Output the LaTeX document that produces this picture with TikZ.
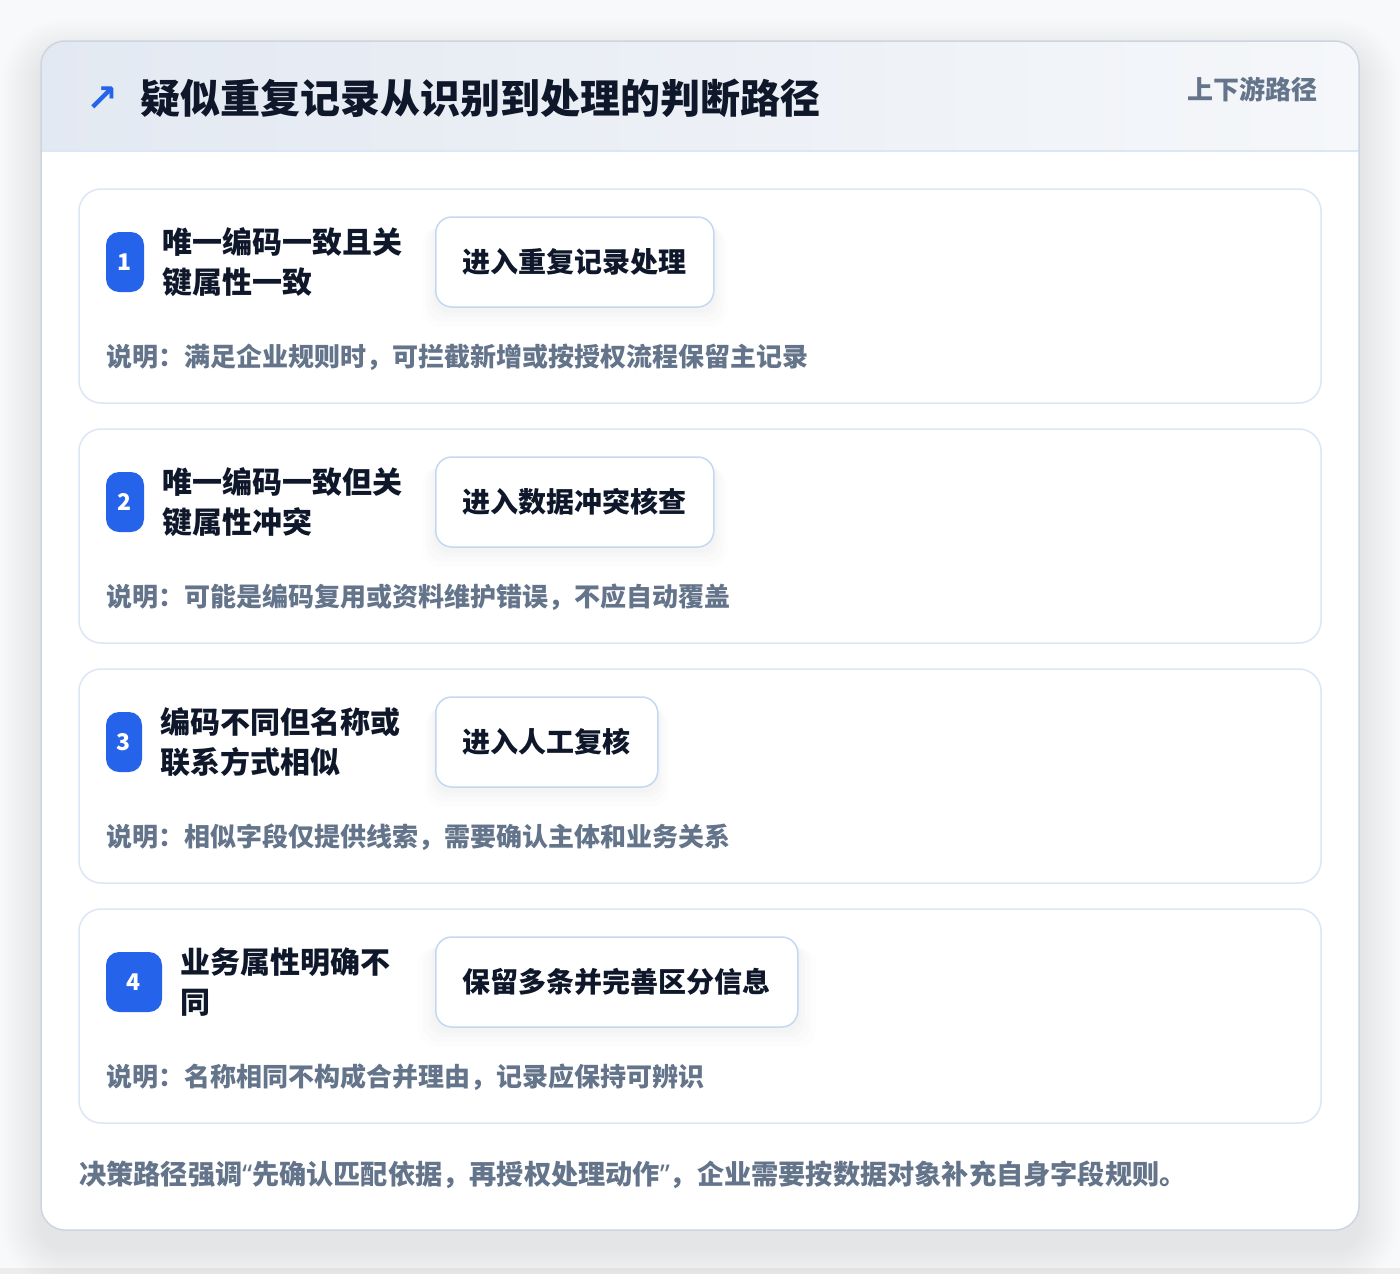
\documentclass[tikz,border=0pt]{standalone}
\usepackage{fontspec}
\setmainfont{Noto Sans CJK SC}
\newfontfamily\symfont{DejaVu Sans}
\newfontfamily\quotefont{Noto Sans}
\usetikzlibrary{shadows}

\definecolor{inkcol}{HTML}{0F172A}
\definecolor{mutedcol}{HTML}{64748B}
\definecolor{accentcol}{HTML}{2563EB}
\definecolor{cardline}{HTML}{CDD5E0}
\definecolor{rowline}{HTML}{DCE7F5}
\definecolor{resline}{HTML}{C3D8F3}
\definecolor{headleft}{HTML}{E3E9F2}
\definecolor{headright}{HTML}{F5F7FA}
\definecolor{pagebg}{HTML}{F8F9FB}

\newcommand{\openq}{{\quotefont “}}
\newcommand{\closeq}{{\quotefont ”}}

\tikzset{
  rowbox/.style={draw=rowline, line width=1.5pt, fill=white, rounded corners=22pt},
  badge/.style={fill=accentcol, text=white, rounded corners=13pt, minimum height=60pt,
    inner sep=0pt, font=\bfseries\fontsize{23}{23}\selectfont},
  condtext/.style={anchor=west, align=left, inner sep=0pt, text=inkcol,
    font=\bfseries\fontsize{30}{40}\selectfont},
  resbox/.style={draw=resline, line width=1.5pt, fill=white, rounded corners=16pt,
    minimum height=90pt, inner xsep=27pt, anchor=west, text=inkcol,
    font=\bfseries\fontsize{28}{28}\selectfont,
    general shadow={fill=black, opacity=.008, shadow yshift=-14pt, shadow scale=1.10},
    general shadow={fill=black, opacity=.010, shadow yshift=-11pt, shadow scale=1.07},
    general shadow={fill=black, opacity=.012, shadow yshift=-8pt, shadow scale=1.04},
    general shadow={fill=black, opacity=.012, shadow yshift=-5pt, shadow scale=1.02}},
  desctext/.style={anchor=west, inner sep=0pt, text=mutedcol,
    font=\bfseries\fontsize{26}{26}\selectfont},
}

\begin{document}
\begin{tikzpicture}[x=1pt, y=-1pt]
\useasboundingbox (0,0) rectangle (1400,1274);
\fill[pagebg] (0,0) rectangle (1400,1274);
\fill[black!7] (0,1268) rectangle (1400,1274);

% soft shadow under the card
\foreach \k in {1,...,20}
  \fill[black, opacity=.004, rounded corners={24pt+\k*2pt}]
    (41-\k*2, 41-\k*2+18) rectangle (1359+\k*2, 1230+\k*2+18);

% card and header band
\fill[white, rounded corners=24pt] (41,41) rectangle (1359,1230);
\begin{scope}
  \clip[rounded corners=24pt] (41,41) rectangle (1359,1230);
  \shade[left color=headleft, right color=headright] (41,41) rectangle (1359,151);
\end{scope}
\draw[rowline, line width=1.5pt] (41,151) -- (1359,151);
\draw[cardline, line width=1.5pt, rounded corners=24pt] (41,41) rectangle (1359,1230);

\node[text=accentcol, font=\symfont\bfseries\fontsize{38}{38}\selectfont, inner sep=0pt] (icon) at (102,99) {↗};
\node[anchor=west, inner sep=0pt, text=inkcol, font=\bfseries\fontsize{40}{40}\selectfont]
  (title) at (140,98) {疑似重复记录从识别到处理的判断路径};
\node[anchor=east, inner sep=0pt, text=mutedcol, font=\bfseries\fontsize{26}{26}\selectfont]
  (scope) at (1318,89) {上下游路径};

% one row per decision
\foreach \i/\bw/\cond/\res/\desc in {
  1/38/{唯一编码一致且关\\键属性一致}/进入重复记录处理/{说明：满足企业规则时，可拦截新增或按授权流程保留主记录},
  2/38/{唯一编码一致但关\\键属性冲突}/进入数据冲突核查/{说明：可能是编码复用或资料维护错误，不应自动覆盖},
  3/36/{编码不同但名称或\\联系方式相似}/进入人工复核/{说明：相似字段仅提供线索，需要确认主体和业务关系},
  4/56/{业务属性明确不\\同}/保留多条并完善区分信息/{说明：名称相同不构成合并理由，记录应保持可辨识}}
{
  \pgfmathsetmacro\rowy{189+240*(\i-1)}
  \node[rowbox, minimum width=1242pt, minimum height=214pt, inner sep=0pt]
    (row\i) at (700,\rowy+107) {};
  \node[badge, minimum width=\bw pt] (badge\i) at (106+\bw/2,\rowy+73) {\i};
  \node[condtext] (cond\i) at ([xshift=18pt]badge\i.east) {\cond};
  \node[resbox] (res\i) at (435,\rowy+73) {\res};
  \node[desctext] (desc\i) at (106,\rowy+168) {\desc};
}

\node[anchor=west, inner sep=0pt, text=mutedcol, font=\bfseries\fontsize{27.2}{27.2}\selectfont]
  (note) at (79,1175) {决策路径强调\openq 先确认匹配依据，再授权处理动作\closeq ，企业需要按数据对象补充自身字段规则。};
\end{tikzpicture}
\end{document}
